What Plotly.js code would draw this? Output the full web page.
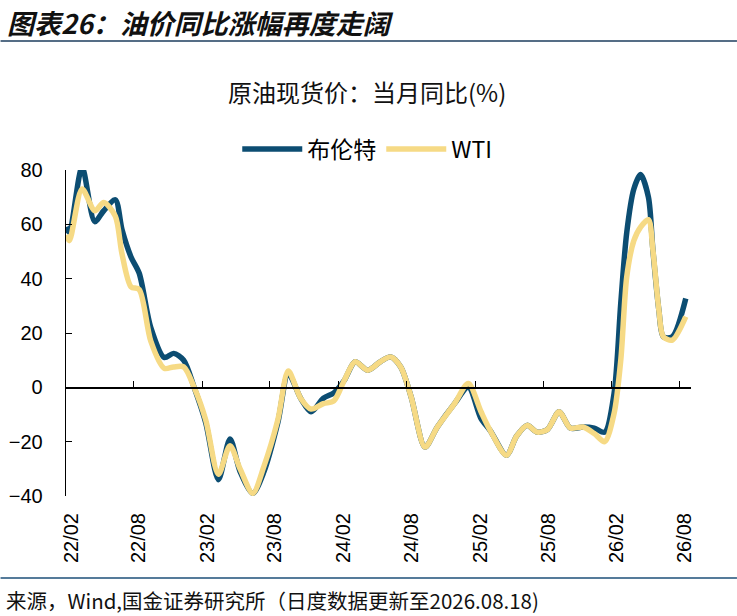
<!DOCTYPE html>
<html>
<head>
<meta charset="utf-8">
<script src="https://cdn.plot.ly/plotly-3.0.1.min.js"></script>
<style>
html,body{margin:0;padding:0;background:#fff;}
#chart{width:737px;height:616px;}
</style>
</head>
<body>
<div id="chart"></div>
<script>
// Dates (points along the smoothed curves)
const dates = [
  '2022-02-01','2022-02-10','2022-03-16','2022-04-19','2022-05-13','2022-06-13','2022-07-01','2022-07-25',
  '2022-08-16','2022-09-16','2022-10-22','2022-11-16','2022-12-13','2023-01-10','2023-02-10','2023-03-16',
  '2023-04-16','2023-05-13','2023-06-16','2023-07-16','2023-08-22','2023-09-19','2023-10-22','2023-11-19',
  '2023-12-22','2024-01-19','2024-02-16','2024-03-16','2024-04-19','2024-05-22','2024-06-19','2024-07-16',
  '2024-08-13','2024-09-19','2024-10-22','2024-12-07','2025-01-13','2025-02-16','2025-03-13','2025-04-25',
  '2025-05-22','2025-06-19','2025-07-16','2025-08-13','2025-09-13','2025-10-13','2025-11-16','2025-12-16',
  '2026-01-13','2026-02-07','2026-02-25','2026-03-13','2026-04-01','2026-04-19','2026-05-10','2026-05-22',
  '2026-06-07','2026-06-19','2026-07-13','2026-08-18'
];
const brent = [
  59, 57, 81, 61, 65, 69, 58, 48,
  42, 22, 11, 12.5, 10, 0, -13, -34,
  -19, -31, -39, -31, -13, 5, -4, -9,
  -4, -2, 2.6, 9.4, 6.3, 9.4, 11.2, 7.5,
  -3.6, -22, -14.6, -6, 0, -11.5, -16, -25,
  -18, -14, -16.5, -15.5, -9, -15, -14.6, -15,
  -16.5, -2.3, 31, 57, 73, 78.3, 70, 50.6,
  28.4, 18.6, 18.6, 32.7
];
const wti = [
  56, 54, 73, 65, 68, 63, 49, 37,
  36, 17, 7, 7.5, 7.5, 0, -12, -32,
  -21.5, -30, -39, -29, -12, 6, -4, -8,
  -6, -5, 2.6, 9.4, 6.3, 9.4, 11.2, 7.5,
  -3.6, -22, -14.6, -6, 1.4, -9, -16, -25,
  -18, -14, -16.5, -15.5, -9, -15, -14.6, -17,
  -20, -9.7, 10, 40.7, 54, 59, 61.7, 50.6,
  28.4, 18.6, 17.4, 26
];
const tickVals = ['2022-02-01','2022-08-01','2023-02-01','2023-08-01','2024-02-01','2024-08-01','2025-02-01','2025-08-01','2026-02-01','2026-08-01'];
const tickText = ['22/02','22/08','23/02','23/08','24/02','24/08','25/02','25/08','26/02','26/08'];
const yTicks = [-40,-20,0,20,40,60,80];
const seriesNames = ['布伦特','WTI'];

const xRange = ['2022-02-01','2026-09-01'];
const yRange = [-40, 80];

const traces = [
  {x: dates, y: brent, name: seriesNames[0], type:'scatter', mode:'lines',
   line:{color:'#0c4d72', width:5.5, shape:'spline', smoothing:0.8}, xaxis:'x', yaxis:'y'},
  {x: dates, y: wti, name: seriesNames[1], type:'scatter', mode:'lines',
   line:{color:'#f6da85', width:5.5, shape:'spline', smoothing:0.8}, xaxis:'x2', yaxis:'y'}
];

const L = 65.5, R = 46, T = 170, B = 120;
const W = 737, H = 616;
const pw = W - L - R, ph = H - T - B;
const px = v => (v - L) / pw;        // pixel x -> paper
const py = v => (H - B - v) / ph;    // pixel y -> paper

const layout = {
  width: W, height: H,
  margin: {l: L, r: R, t: T, b: B, pad: 0},
  paper_bgcolor: '#fff', plot_bgcolor: '#fff',
  showlegend: true,
  legend: {orientation:'h', x: px(367), xanchor:'center', y: py(149), yanchor:'middle',
           font:{family:'Noto Sans CJK SC, Liberation Sans', size:23, color:'#000'},
           itemwidth: 60, tracegroupgap: 0, bgcolor:'rgba(0,0,0,0)'},
  xaxis: {type:'date', range: xRange, tickvals: tickVals, ticktext: tickText,
          tickangle: -90, ticks:'', showline:false, showgrid:false, zeroline:false,
          ticklabelshift: 5, ticklabelstandoff: 12,
          tickfont:{family:'Liberation Sans, Arial', size:20, color:'#000'}},
  xaxis2: {type:'date', range: xRange, overlaying:'x', anchor:'free', position: (0 - yRange[0])/(yRange[1]-yRange[0]),
           tickvals: tickVals, showticklabels:false, ticks:'inside', ticklen:6, tickcolor:'#000', tickwidth:1,
           showline:true, linecolor:'#000', linewidth:1.3, showgrid:false, zeroline:false},
  yaxis: {range: yRange, tickvals: yTicks, ticks:'inside', ticklen:6, tickcolor:'#000',
          showline:true, linecolor:'#000', linewidth:1.3, showgrid:false, zeroline:false,
          ticklabelstandoff: 18,
          tickfont:{family:'Liberation Sans, Arial', size:20, color:'#000'}},
  shapes: [
    {type:'line', xref:'paper', yref:'paper', x0: px(0), x1: px(737), y0: py(41), y1: py(41),
     line:{color:'#1c3d5e', width:1.5}},
    {type:'line', xref:'paper', yref:'paper', x0: px(0), x1: px(737), y0: py(578), y1: py(578),
     line:{color:'#1c4f78', width:1.5}}
  ],
  annotations: [
    {text:'<b><i>图表26：油价同比涨幅再度走阔</i></b>', xref:'paper', yref:'paper', x: px(4), y: py(23),
     xanchor:'left', yanchor:'middle', showarrow:false,
     font:{family:'Noto Sans CJK SC', size:27, color:'#111'}},
    {text:'原油现货价：当月同比(%)', xref:'paper', yref:'paper', x: px(367), y: py(91),
     xanchor:'center', yanchor:'middle', showarrow:false,
     font:{family:'Noto Sans CJK SC', size:24, color:'#111'}},
    {text:'来源，Wind,国金证券研究所（日度数据更新至2026.08.18)', xref:'paper', yref:'paper', x: px(3), y: py(600),
     xanchor:'left', yanchor:'middle', showarrow:false,
     font:{family:'Noto Sans CJK SC', size:20.5, color:'#111'}}
  ]
};

Plotly.newPlot('chart', traces, layout, {staticPlot:true, displayModeBar:false});
</script>
</body>
</html>
